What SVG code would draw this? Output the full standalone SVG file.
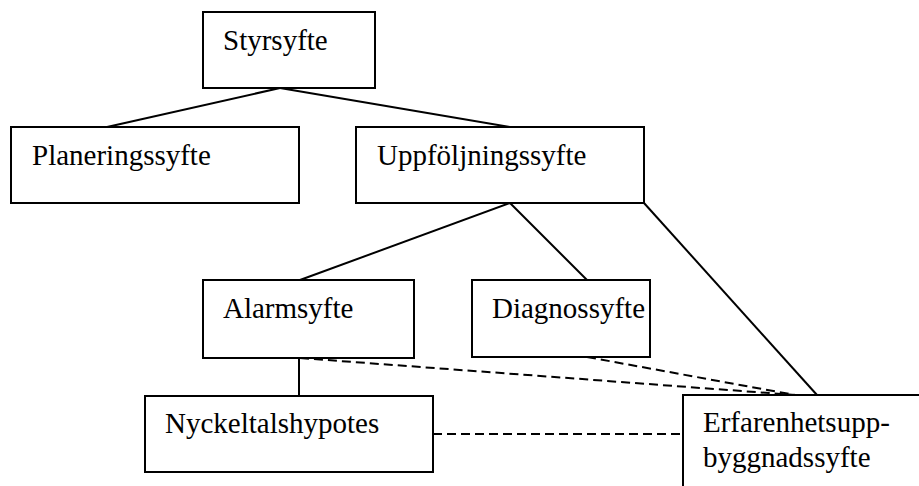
<svg xmlns="http://www.w3.org/2000/svg" width="919" height="486" viewBox="0 0 919 486">
  <style>
    .box { fill: #ffffff; stroke: #000000; stroke-width: 2; }
    .lbl { font-family: "Liberation Serif", "Times New Roman", serif; font-size: 29px; fill: #000000; }
    .link { stroke: #000000; stroke-width: 2; fill: none; }
    .dash { stroke: #000000; stroke-width: 2; fill: none; stroke-dasharray: 9 5; }
  </style>
  <rect x="0" y="0" width="919" height="486" fill="#ffffff"/>

  <!-- connectors -->
  <g id="connectors">
    <line class="link" x1="280" y1="88" x2="107" y2="127"/>
    <line class="link" x1="280" y1="88" x2="510" y2="127"/>
    <line class="link" x1="510" y1="203" x2="300" y2="280"/>
    <line class="link" x1="510" y1="203" x2="587" y2="280"/>
    <line class="link" x1="644" y1="203" x2="817" y2="395"/>
    <line class="link" x1="299" y1="358" x2="299" y2="396"/>
    <line class="dash" x1="300" y1="358" x2="795" y2="395"/>
    <line class="dash" x1="587" y1="357" x2="795" y2="395"/>
    <line class="dash" x1="433" y1="434" x2="683" y2="434"/>
  </g>

  <g id="styrsyfte">
    <rect class="box" x="203" y="12" width="172" height="76"/>
    <text class="lbl" x="223" y="50">Styrsyfte</text>
  </g>
  <g id="planeringssyfte">
    <rect class="box" x="11" y="127" width="288" height="76"/>
    <text class="lbl" x="32" y="165">Planeringssyfte</text>
  </g>
  <g id="uppfoljningssyfte">
    <rect class="box" x="356" y="127" width="288" height="76"/>
    <text class="lbl" x="377" y="165">Uppföljningssyfte</text>
  </g>
  <g id="alarmsyfte">
    <rect class="box" x="203" y="280" width="211" height="78"/>
    <text class="lbl" x="223" y="318">Alarmsyfte</text>
  </g>
  <g id="diagnossyfte">
    <rect class="box" x="472" y="280" width="178" height="77"/>
    <text class="lbl" x="492" y="318">Diagnossyfte</text>
  </g>
  <g id="nyckeltalshypotes">
    <rect class="box" x="145" y="396" width="288" height="76"/>
    <text class="lbl" x="165" y="433">Nyckeltalshypotes</text>
  </g>
  <g id="erfarenhetsuppbyggnadssyfte">
    <rect class="box" x="683" y="395" width="260" height="110"/>
    <text class="lbl" x="703" y="432">Erfarenhetsupp-</text>
    <text class="lbl" x="703" y="467">byggnadssyfte</text>
  </g>
</svg>
